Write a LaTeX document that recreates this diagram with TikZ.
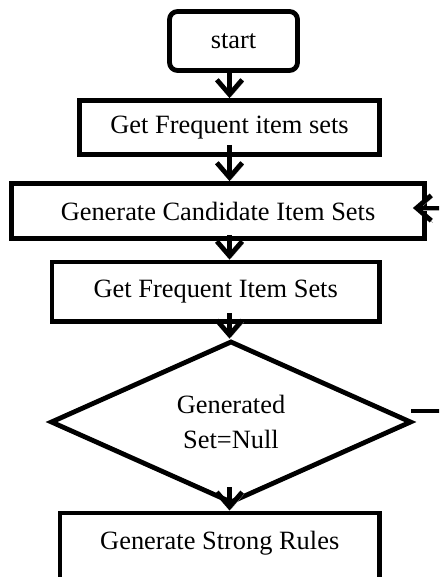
\documentclass[tikz,border=0pt]{standalone}
\usepackage{fontspec}
\setmainfont{Liberation Serif}
\usetikzlibrary{shapes.geometric,arrows.meta}
\begin{document}
\begin{tikzpicture}[x=0.75pt,y=-0.75pt,
  flow/.style={draw=black, line width=3.6pt, fill=white, inner sep=0pt,
    font=\fontsize{19.8}{26}\selectfont},
  procbox/.style={flow, rectangle},
  startbox/.style={flow, rectangle, rounded corners=6pt},
  decision/.style={flow, diamond, align=center},
  arr/.style={line width=3.6pt, -{Straight Barb[length=11pt,width=19pt]},
    preaction={draw=black!35, transform canvas={shift={(1.2pt,-1.5pt)}}}},
  link/.style={line width=3.6pt}]
  % page frame
  \fill[white] (0,0) rectangle (439,577);
  \useasboundingbox (0,0) rectangle (439,577);
  \clip (0,0) rectangle (439,577);

  % flow steps
  \node[startbox, minimum width=96pt, minimum height=44.25pt] (start) at (233.5,41) {start};
  \node[procbox, minimum width=225pt, minimum height=40.5pt] (get1) at (229.5,127.5) {Get Frequent item sets};
  \node[procbox, minimum width=309.75pt, minimum height=41.25pt] (gen) at (218,211) {Generate Candidate Item Sets};
  \node[procbox, minimum width=245.6pt, minimum height=44.6pt] (get2) at (215.75,291.75) {Get Frequent Item Sets};
  \node[decision, minimum width=270.75pt, minimum height=121.5pt] (dec) at (231,422) {Generated\\Set=Null};
  \node[procbox, anchor=north, minimum width=239.6pt, text height=27.4pt, text depth=22.9pt] (rules) at (219.75,510.5) {Generate Strong Rules};

  % loop ends running off the right edge
  \coordinate (loopin) at (450,208);
  \coordinate (loopout) at (450,411);

  % connectors
  \draw[arr] (start.south -| get1.north) -- (get1.north);
  \draw[arr] ([yshift=9pt]get1.south) -- (gen.north -| get1.south);
  \draw[arr] ([yshift=4.5pt]gen.south -| get1.south) -- (get2.north -| get1.south);
  \draw[arr] ([yshift=8pt]get2.south -| get1.south) -- (dec.north -| get1.south);
  \draw[arr] ([yshift=13.5pt]dec.south -| get1.south) -- (rules.north -| get1.south);
  \draw[arr] (loopin) -- ([xshift=-10.5pt]gen.east |- loopin);
  \draw[link] ([xshift=-2pt]dec.east |- loopout) -- (loopout);
\end{tikzpicture}
\end{document}
